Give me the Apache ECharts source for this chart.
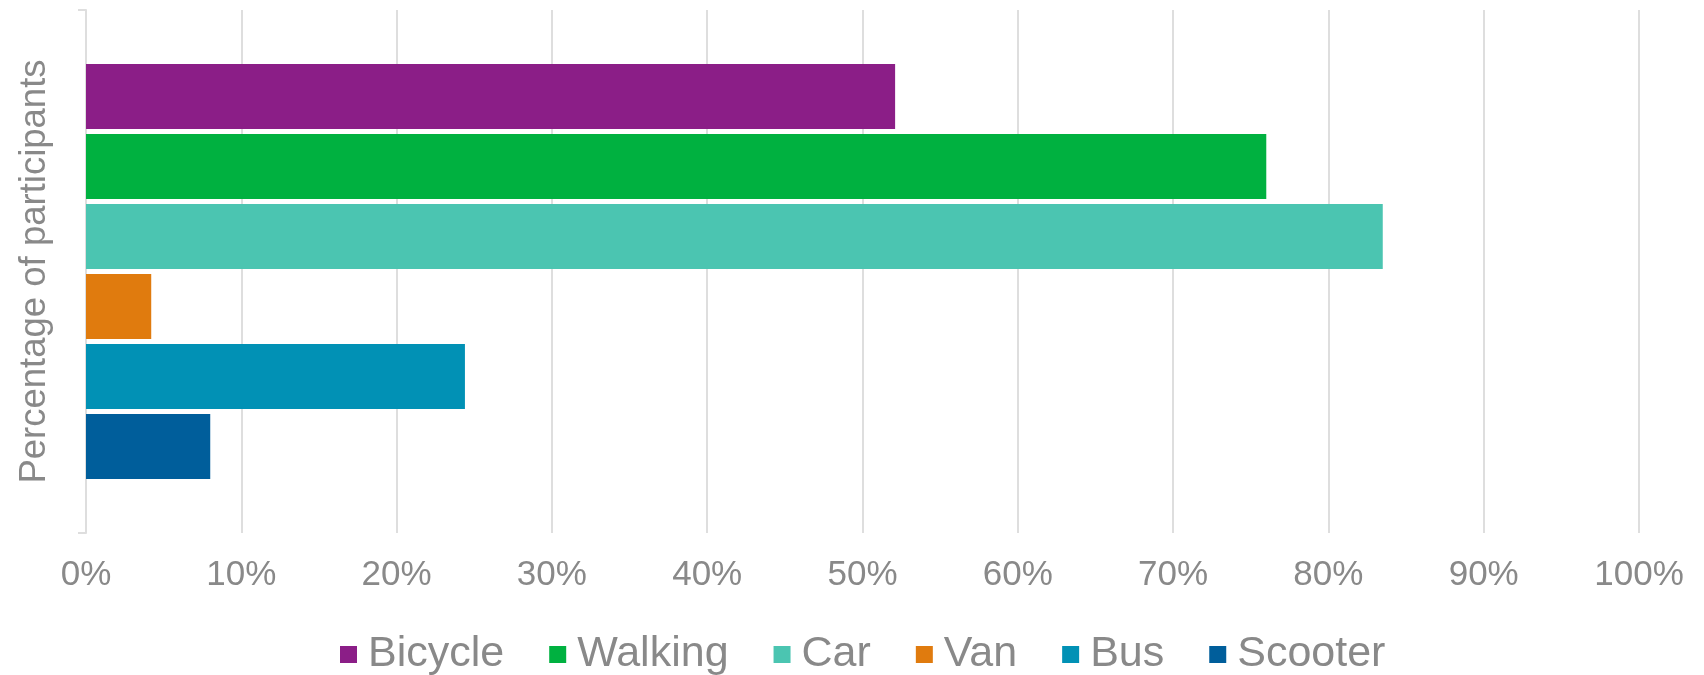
<!DOCTYPE html>
<html>
<head>
<meta charset="utf-8">
<script src="https://cdn.jsdelivr.net/npm/echarts@6/dist/echarts.min.js"></script>
<style>
  html, body { margin: 0; padding: 0; background: #fff; }
  #chart { width: 1704px; height: 675px; }
</style>
</head>
<body>
<div id="chart"></div>
<script>
// modes of transport and share of participants (%)
const modes = ['Bicycle', 'Walking', 'Car', 'Van', 'Bus', 'Scooter'];
const shares = [52.1, 76.0, 83.5, 4.2, 24.4, 8.0];
const modeColors = ['#8b1e87', '#00b140', '#4bc5b1', '#e07b0e', '#0191b5', '#005e9b'];
const xTicks = [0, 10, 20, 30, 40, 50, 60, 70, 80, 90, 100];

const textGrey = '#898989';
const lineGrey = '#dedede';

const chart = echarts.init(document.getElementById('chart'));

const series = modes.map((name, i) => ({
  name: name,
  type: 'bar',
  data: [shares[i]],
  barWidth: 65,
  barGap: '7.7%',
  itemStyle: { color: modeColors[i] }
}));

const options = {
  animation: false,
  textStyle: { fontFamily: 'Liberation Sans, Arial, sans-serif' },
  grid: { left: 86, right: 65, top: 10, bottom: 142, containLabel: false },
  legend: {
    data: modes,
    top: 633,
    left: 340,
    padding: 0,
    icon: 'rect',
    itemWidth: 17,
    itemHeight: 17,
    itemGap: 45,
    textStyle: { color: textGrey, fontSize: 43, padding: [0, 0, 0, 6] }
  },
  xAxis: {
    type: 'value',
    min: xTicks[0],
    max: xTicks[xTicks.length - 1],
    interval: 10,
    axisLine: { show: false },
    axisTick: { show: false },
    axisLabel: {
      color: textGrey,
      fontSize: 35,
      margin: 25,
      formatter: '{value}%'
    },
    splitLine: { show: true, lineStyle: { color: lineGrey, width: 2 } }
  },
  yAxis: {
    type: 'category',
    data: [''],
    inverse: true,
    name: 'Percentage of participants',
    nameLocation: 'middle',
    nameGap: 33,
    nameTextStyle: { color: textGrey, fontSize: 36.5 },
    axisLine: { show: true, lineStyle: { color: lineGrey, width: 2 } },
    axisTick: { show: true, length: 8, lineStyle: { color: lineGrey, width: 2 } },
    axisLabel: { show: false }
  },
  series: series
};

chart.setOption(options);
</script>
</body>
</html>
